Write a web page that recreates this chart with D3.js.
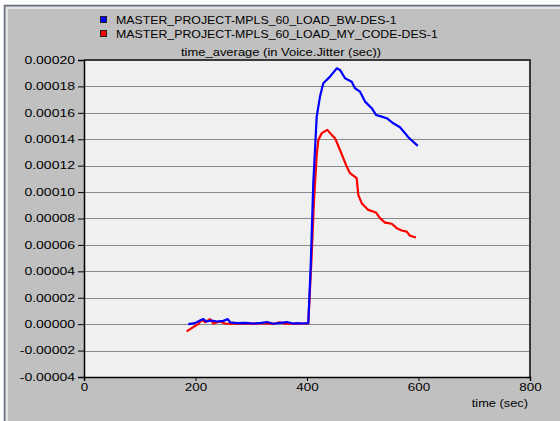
<!DOCTYPE html>
<html><head><meta charset="utf-8">
<script src="https://cdn.jsdelivr.net/npm/d3@7"></script>
<style>html,body{margin:0;padding:0;background:#fff;}svg{display:block;}</style>
</head><body>
<svg id="chart" width="560" height="421"></svg>
<script>
const seriesNames = ["MASTER_PROJECT-MPLS_60_LOAD_BW-DES-1", "MASTER_PROJECT-MPLS_60_LOAD_MY_CODE-DES-1"];
const seriesColors = ["#0000ff", "#ff0000"];
const chartTitle = "time_average (in Voice.Jitter (sec))";
const xTitle = "time (sec)";
const xTicks = [0, 200, 400, 600, 800];
const yTicks = [-0.00004, -0.00002, 0, 0.00002, 0.00004, 0.00006, 0.00008, 0.00010, 0.00012, 0.00014, 0.00016, 0.00018, 0.00020];
// values in units of 1e-6 sec
const bwTime = [187,199,208,214,220,229,238,250,258,262,274,290,305,318,328,340,352,364,375,382,392,400.6,
  402.3,406.6,411.3,417.4,423.3,429.2,441.3,453.3,459.2,468.2,480.2,486.1,495.1,504.1,516.1,523.8,534,543,554.8,566.8,575.8,581.7,598.6];
const bwValues = [0,0.8,2.8,3.8,2.0,2.8,2.0,2.5,3.8,1.3,0.8,1.0,0.5,1.0,1.6,0.3,1.0,1.6,0.5,0.8,0.5,0.8,
  0.8,43.7,107,157.1,172.3,182.4,187.4,193.7,192.5,186.2,183.6,178.6,176,168.5,163.5,158.4,157.1,155.9,152.1,149.1,144.6,141.5,135];
const codeTime = [184.2,196,205,211,217,226,232,244,253,265,280,295,310,325,340,351,360,375,390,400.6,
  402.3,408,412.6,417.4,420.3,426.4,436.4,444.3,450.2,459.2,471.2,477.1,489.1,492,498.1,509.9,523.8,531,539.9,552,561,569.9,578.8,584.8,595.5];
const codeValues = [-5.5,-2.2,0,3.3,1.5,3.8,0.5,2.0,0.5,0.2,0.5,0.3,0.5,0.5,0.2,1.5,0.3,0.3,0.5,0.5,
  0.5,48.7,94.1,128,139.5,144.6,147.1,143.3,140.8,131.9,119.3,114.3,110.5,97.9,91.6,86.5,84.5,80.3,76.9,76,72.7,70.9,70.1,66.9,65.6];

const svg = d3.select("#chart");
const W = 560, H = 421;
const FONT = "'Liberation Sans', Arial, sans-serif";

// window frame
svg.append("rect").attr("x",0).attr("y",0).attr("width",W).attr("height",H).attr("fill","#ffffff");
svg.append("rect").attr("x",4).attr("y",5).attr("width",W-4).attr("height",H-5).attr("fill","#c0c0c0");
svg.append("path").attr("d",`M4.5,${H} V5.5 H${W}`).attr("fill","none").attr("stroke","#66707e").attr("stroke-width",1.5);
svg.append("path").attr("d",`M7,${H} V8 H${W}`).attr("fill","none").attr("stroke","#e2e2e2").attr("stroke-width",2);

const L = 84, R = 530, T = 60, B = 377;
const x = d3.scaleLinear().domain([0, 800]).range([L, R]);
const y = d3.scaleLinear().domain([-0.00004, 0.00020]).range([B, T]);

function stretch(sel, k){
  sel.each(function(){
    const w = this.getComputedTextLength();
    d3.select(this).attr("textLength", w*k).attr("lengthAdjust","spacingAndGlyphs");
  });
}

// plot background
svg.append("rect").attr("x",L).attr("y",T).attr("width",R-L).attr("height",B-T).attr("fill","#f0f0f0");

// gridlines
svg.append("g").selectAll("line").data(yTicks.slice(1,-1)).join("line")
  .attr("x1",L).attr("x2",R).attr("y1",d=>Math.round(y(d))+0.5).attr("y2",d=>Math.round(y(d))+0.5)
  .attr("stroke","#8a8a8a").attr("stroke-width",1.2);

// border top/right
svg.append("path").attr("d",`M${L},${T} H${R} V${B}`).attr("fill","none").attr("stroke","#3a3a3a").attr("stroke-width",2);

// lines
const line = d3.line().x(d=>x(d[0])).y(d=>y(d[1]*1e-6));
const codeData = codeTime.map((t,i)=>[t, codeValues[i]]);
const bwData = bwTime.map((t,i)=>[t, bwValues[i]]);
svg.append("path").datum(codeData).attr("d",line).attr("fill","none").attr("stroke",seriesColors[1]).attr("stroke-width",2.2).attr("stroke-linejoin","round");
svg.append("path").datum(bwData).attr("d",line).attr("fill","none").attr("stroke",seriesColors[0]).attr("stroke-width",2.2).attr("stroke-linejoin","round");

// axes
const yAxis = d3.axisLeft(y).tickValues(yTicks).tickSize(6).tickPadding(4).tickFormat(d=>{
  const s = Math.abs(d) < 1e-12 ? "0.00000" : d3.format(".5f")(d);
  return s.replace("−","-");
});
const gy = svg.append("g").attr("transform",`translate(${L},0)`).call(yAxis);
gy.select(".domain").attr("stroke","#000").attr("stroke-width",1.5);
gy.selectAll(".tick line").attr("stroke","#000");
gy.selectAll("text").attr("font-family",FONT).attr("font-size","10.3px").attr("fill","#000").attr("x",-9);
stretch(gy.selectAll("text"), 1.36);

const xAxis = d3.axisBottom(x).tickValues(xTicks).tickSize(4).tickPadding(3).tickFormat(d3.format("d"));
const gx = svg.append("g").attr("transform",`translate(0,${B})`).call(xAxis);
gx.select(".domain").attr("stroke","#000").attr("stroke-width",1.5);
gx.selectAll(".tick line").attr("stroke","#000");
gx.selectAll("text").attr("font-family",FONT).attr("font-size","10.3px").attr("fill","#000");
stretch(gx.selectAll("text"), 1.3);

// x title
const xt = svg.append("text").attr("x",528).attr("y",407).attr("text-anchor","end")
  .attr("font-family",FONT).attr("font-size","10.5px").attr("fill","#000").text(xTitle);
stretch(xt, 1.22);

// chart title
const ct = svg.append("text").attr("x",181).attr("y",56).attr("font-family",FONT).attr("font-size","10.8px").attr("fill","#000").text(chartTitle);
stretch(ct, 1.2);

// legend
const lg = svg.append("g");
seriesNames.forEach((name,i)=>{
  const yy = 17 + i*14;
  lg.append("rect").attr("x",100.5).attr("y",yy-0.5).attr("width",6).attr("height",6)
    .attr("fill",seriesColors[i]).attr("stroke","#222").attr("stroke-width",1);
  const t = lg.append("text").attr("x",116).attr("y",yy+6.5).attr("font-family",FONT).attr("font-size","11px").attr("fill","#000").text(name);
  stretch(t, 1.12);
});
</script>
</body></html>
